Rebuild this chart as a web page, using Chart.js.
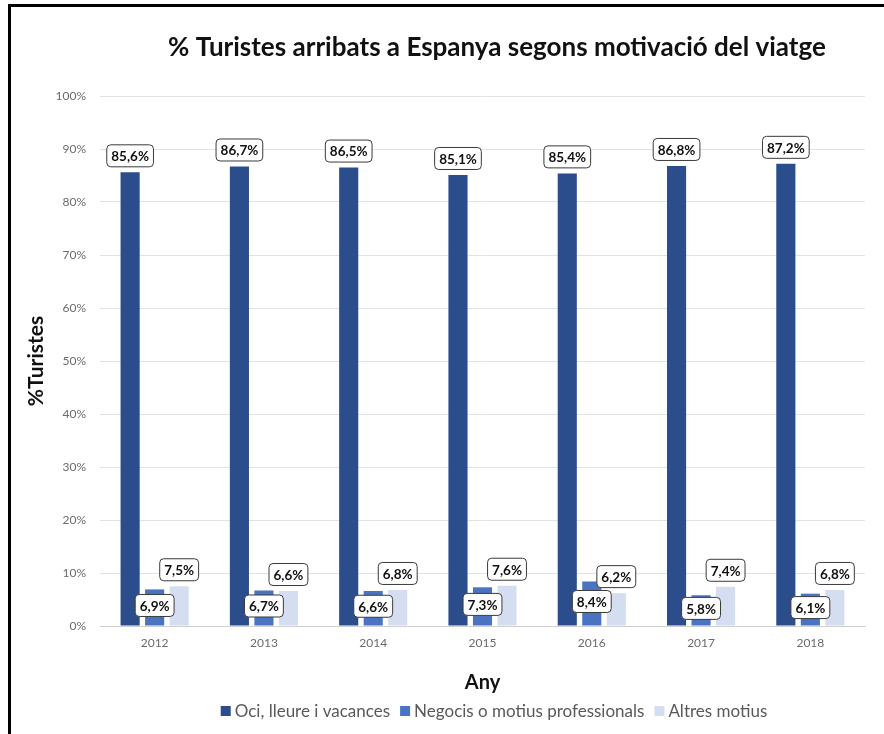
<!DOCTYPE html>
<html><head><meta charset="utf-8">
<script src="https://cdn.jsdelivr.net/npm/chart.js@4.4.1/dist/chart.umd.min.js"></script>
<style>
html,body{margin:0;padding:0;background:#fff;overflow:hidden;}
#wrap{position:relative;width:884px;height:734px;}
#frameTop{position:absolute;left:8px;top:4px;width:876px;height:3px;background:#000;}
#frameLeft{position:absolute;left:8px;top:4px;width:3px;height:730px;background:#000;}
canvas{position:absolute;left:0;top:0;}
</style></head><body>
<div id="wrap"><canvas id="c" width="884" height="734"></canvas><div id="frameTop"></div><div id="frameLeft"></div></div>
<script>
const chartTitle = '% Turistes arribats a Espanya segons motivació del viatge';
const years = ['2012','2013','2014','2015','2016','2017','2018'];
const seriesNames = ['Oci, lleure i vacances','Negocis o motius professionals','Altres motius'];
const oci = [85.6, 86.7, 86.5, 85.1, 85.4, 86.8, 87.2];
const negocis = [6.9, 6.7, 6.6, 7.3, 8.4, 5.8, 6.1];
const altres = [7.5, 6.6, 6.8, 7.6, 6.2, 7.4, 6.8];
const colors = ['#2c4d8c', '#4a74c2', '#d5def0'];
const yTitle = '%Turistes';
const xTitle = 'Any';

const FONT = 'Lato, Calibri, Carlito, sans-serif';
const fmt = v => v.toFixed(1).replace('.', ',') + '%';

function roundRect(ctx, x, y, w, h, r) {
  ctx.beginPath();
  ctx.moveTo(x + r, y);
  ctx.lineTo(x + w - r, y);
  ctx.quadraticCurveTo(x + w, y, x + w, y + r);
  ctx.lineTo(x + w, y + h - r);
  ctx.quadraticCurveTo(x + w, y + h, x + w - r, y + h);
  ctx.lineTo(x + r, y + h);
  ctx.quadraticCurveTo(x, y + h, x, y + h - r);
  ctx.lineTo(x, y + r);
  ctx.quadraticCurveTo(x, y, x + r, y);
  ctx.closePath();
}

const labelPlugin = {
  id: 'boxLabels',
  afterDatasetsDraw(chart) {
    const ctx = chart.ctx;
    ctx.save();
    ctx.font = 'bold 13.5px ' + FONT;
    ctx.textAlign = 'center';
    ctx.textBaseline = 'middle';
    [0, 2, 1].forEach(di => {
      const meta = chart.getDatasetMeta(di);
      const data = chart.data.datasets[di].data;
      meta.data.forEach((bar, i) => {
        const txt = fmt(data[i]);
        const w = ctx.measureText(txt).width + 9;
        const h = 22;
        let cx = bar.x, cy;
        if (di === 1) cy = (bar.y + bar.base) / 2 - 2;
        else cy = bar.y - 16.5;
        roundRect(ctx, cx - w / 2, cy - h / 2, w, h, 4);
        ctx.fillStyle = '#ffffff';
        ctx.fill();
        ctx.lineWidth = 1;
        ctx.strokeStyle = '#3a3a3a';
        ctx.stroke();
        ctx.fillStyle = '#111111';
        ctx.fillText(txt, cx, cy + 1);
      });
    });
    ctx.restore();
  }
};

const decorPlugin = {
  id: 'decor',
  afterDraw(chart) {
    const ctx = chart.ctx;
    ctx.save();
    // title
    ctx.font = 'bold 26px ' + FONT;
    ctx.fillStyle = '#111111';
    ctx.textAlign = 'center';
    ctx.textBaseline = 'middle';
    ctx.fillText(chartTitle, 497, 48);
    // legend
    ctx.font = '17px ' + FONT;
    const box = 10, gap = 4, sep = 10;
    const widths = seriesNames.map(n => ctx.measureText(n).width);
    let total = widths.reduce((a, b) => a + b, 0) + seriesNames.length * (box + gap) + (seriesNames.length - 1) * sep;
    let x = 494 - total / 2;
    const y = 711;
    ctx.textAlign = 'left';
    seriesNames.forEach((n, i) => {
      ctx.fillStyle = colors[i];
      ctx.fillRect(x, y - box / 2, box, box);
      x += box + gap;
      ctx.fillStyle = '#595959';
      ctx.fillText(n, x, y + 1);
      x += widths[i] + sep;
    });
    ctx.restore();
  }
};

new Chart(document.getElementById('c'), {
  type: 'bar',
  data: {
    labels: years,
    datasets: [
      { label: seriesNames[0], data: oci, backgroundColor: colors[0] },
      { label: seriesNames[1], data: negocis, backgroundColor: colors[1] },
      { label: seriesNames[2], data: altres, backgroundColor: colors[2] }
    ]
  },
  options: {
    responsive: false,
    animation: false,
    events: [],
    categoryPercentage: 0.673,
    barPercentage: 0.78,
    layout: { padding: { left: 20, right: 19, top: 96, bottom: 35 } },
    plugins: { legend: { display: false }, title: { display: false }, tooltip: { enabled: false } },
    scales: {
      x: {
        grid: { display: false, drawTicks: false },
        border: { display: true, color: '#d0d0d0' },
        ticks: { color: '#6b6b6b', font: { family: FONT, size: 12 }, padding: 10 },
        title: { display: true, text: xTitle, color: '#111111', font: { family: FONT, size: 20, weight: 'bold' }, padding: { top: 4, bottom: 4 } },
        afterFit(s) { s.height = 73; }
      },
      y: {
        min: 0, max: 100,
        grid: { color: '#e2e2e2', drawTicks: false },
        border: { display: false },
        ticks: { stepSize: 10, color: '#6b6b6b', font: { family: FONT, size: 12 }, padding: 14, callback: v => v + '%' },
        title: { display: true, text: yTitle, color: '#111111', font: { family: FONT, size: 21, weight: 'bold' }, padding: { top: 4, bottom: 4 } },
        afterFit(s) { s.width = 80; }
      }
    }
  },
  plugins: [labelPlugin, decorPlugin]
});
</script>
</body></html>
